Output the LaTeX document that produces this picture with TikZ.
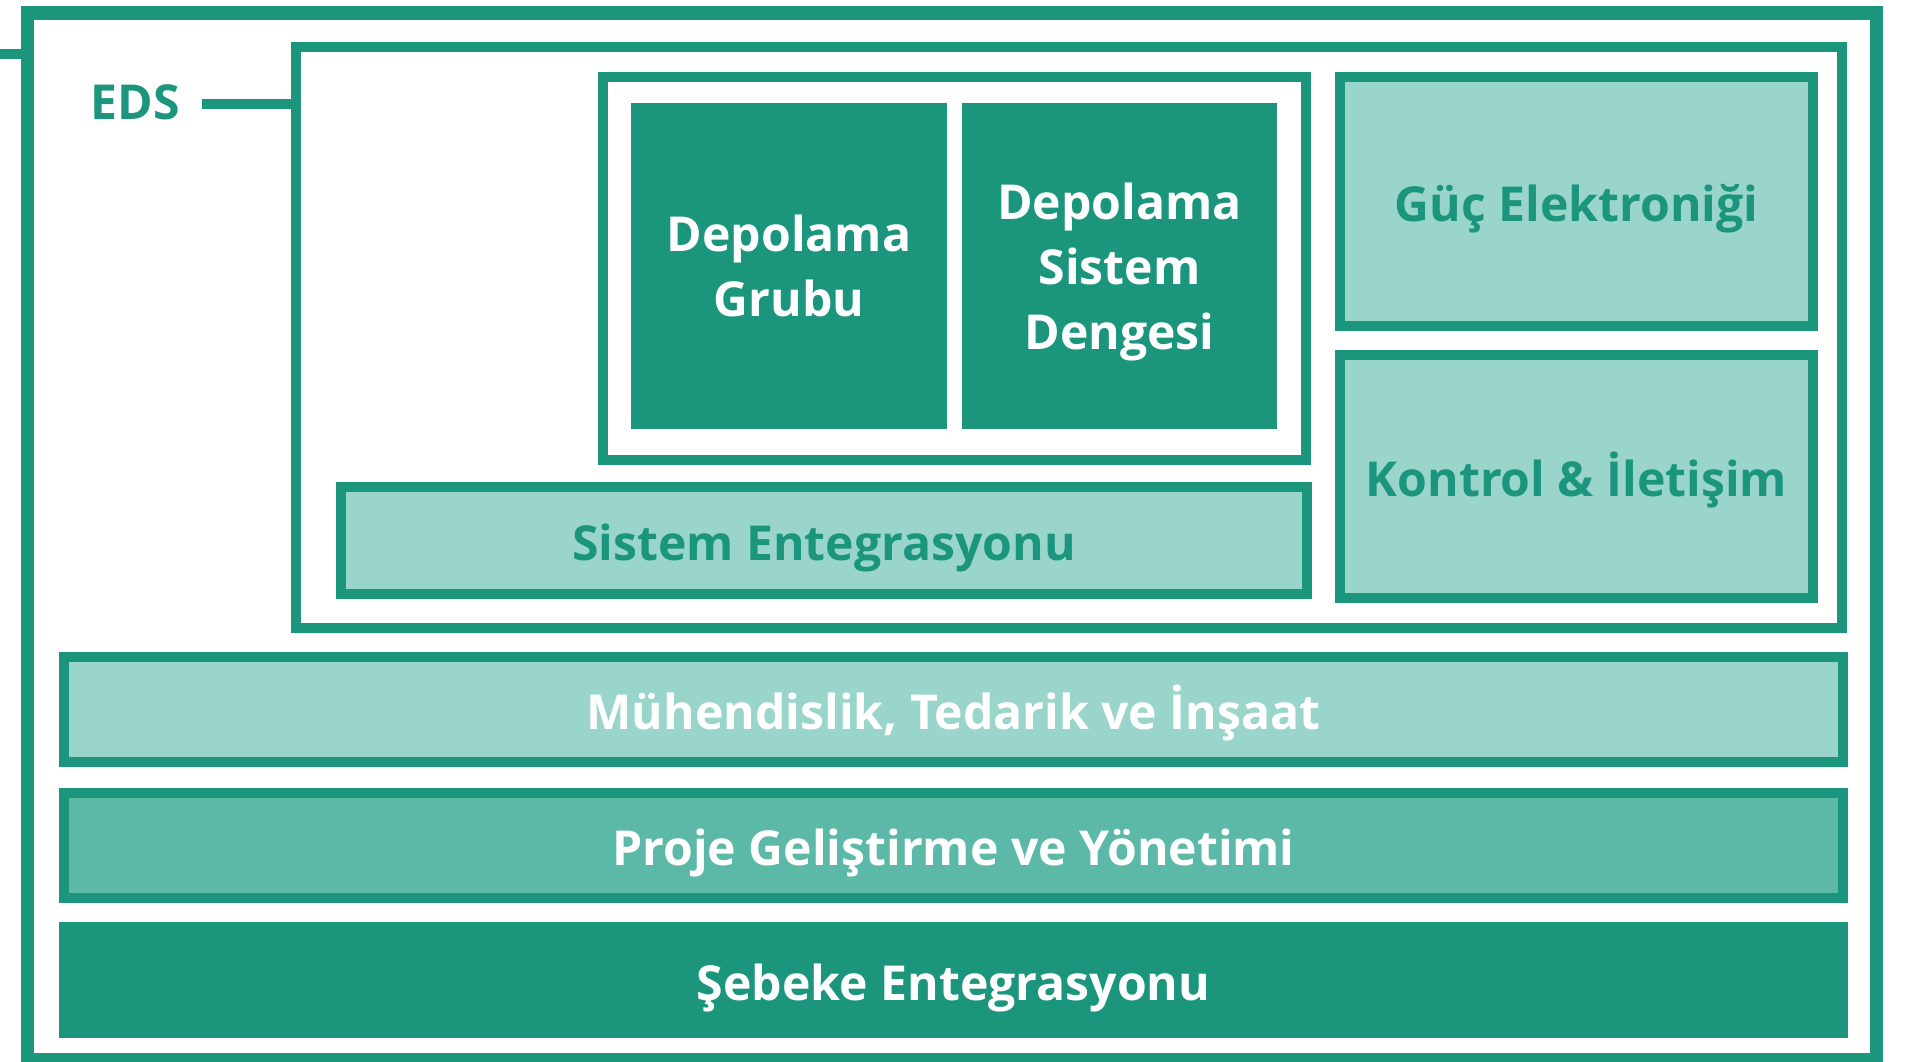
\documentclass[tikz,border=0pt]{standalone}
\usepackage{fontspec}
\setmainfont{Open Sans}
\usepackage{xcolor}
\usepackage{tikz}
\definecolor{edsdark}{HTML}{1B967D}
\definecolor{edslight}{HTML}{9AD5CB}
\definecolor{edsmid}{HTML}{5CB9A8}

\begin{document}
\begin{tikzpicture}
        \tikzstyle{every node}+=[inner sep=0pt, font=\fontsize{13.7}{18.5}\selectfont\bfseries, align=center]
        \tikzstyle{capline}=[text height=11.6pt, text depth=0pt]
        \tikzstyle{stack}=[text depth=-1.4pt]
        \tikzstyle{frame}=[draw=edsdark, line width=0.1cm, fill=white]
        \tikzstyle{lightbox}=[capline, draw=edsdark, line width=0.1cm, fill=edslight, text=edsdark]
        \tikzstyle{midbox}=[capline, draw=edsdark, line width=0.1cm, fill=edsmid, text=white]
        \tikzstyle{darkbox}=[fill=edsdark, text=white]
        \tikzstyle{link}=[draw=edsdark, line width=0.1cm]
        \useasboundingbox (0,0) rectangle (19.21,-10.62);
        \node [draw=edsdark, line width=0.135cm, minimum width=18.485cm, minimum height=10.465cm] (outer) at (9.52,-5.36) {};
        \node [frame, minimum width=15.46cm, minimum height=5.81cm] (eds) at (10.69,-3.375) {};
        \node [frame, minimum width=7.03cm, minimum height=3.83cm] (store) at (9.545,-2.685) {};
        \node [darkbox, stack, minimum width=3.16cm, minimum height=3.26cm] (group) at (7.89,-2.66) {Depolama\\Grubu};
        \node [darkbox, stack, minimum width=3.15cm, minimum height=3.26cm] (balance) at (11.195,-2.66) {Depolama\\Sistem\\Dengesi};
        \node [lightbox, minimum width=9.66cm, minimum height=1.07cm] (sysint) at (8.24,-5.405) {Sistem Entegrasyonu};
        \node [lightbox, minimum width=4.73cm, minimum height=2.49cm] (power) at (15.765,-2.015) {Güç Elektroniği};
        \node [lightbox, minimum width=4.73cm, minimum height=2.43cm] (control) at (15.765,-4.765) {Kontrol \& İletişim};
        \node [lightbox, text=white, minimum width=17.79cm, minimum height=1.05cm] (epc) at (9.535,-7.095) {Mühendislik, Tedarik ve İnşaat};
        \node [midbox, minimum width=17.79cm, minimum height=1.05cm] (devel) at (9.535,-8.455) {Proje Geliştirme ve Yönetimi};
        \node [darkbox, capline, minimum width=17.89cm, minimum height=1.16cm] (grid) at (9.535,-9.80) {Şebeke Entegrasyonu};
        \node [text height=9.8pt, text depth=0pt, text=edsdark] (edslbl) at (1.35,-1.02) {EDS};
        \coordinate (stub) at (0,-0.54);
        \coordinate (edstick) at (2.02,-1.04);
        \draw [link] (stub) -- (stub -| outer.west);
        \draw [link] (edstick) -- (edstick -| eds.west);
\end{tikzpicture}
\end{document}
